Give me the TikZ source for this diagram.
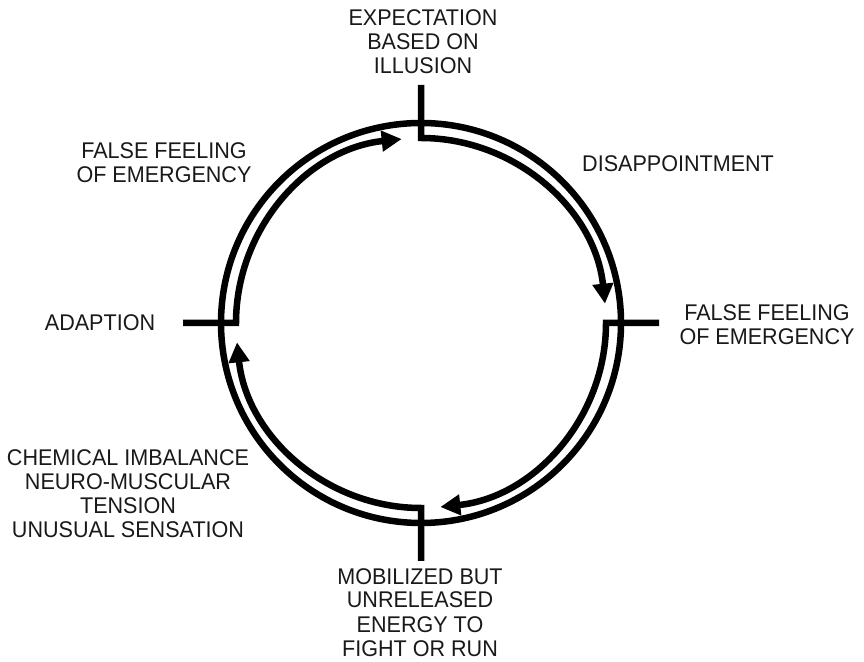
\documentclass[tikz,border=0pt]{standalone}
\usepackage{fontspec}
\setmainfont{Liberation Sans}[FakeStretch=0.95]
\usetikzlibrary{arrows.meta}
\begin{document}
\begin{tikzpicture}[x=1pt,y=1pt,
  lbl/.style={font=\fontsize{22.7}{24}\selectfont, align=center, inner sep=0pt, text=black!90},
  ring/.style={line width=6.5pt},
  flow/.style={line width=6.5pt, line join=miter, -{Triangle[length=20pt,width=20pt]}}]
\useasboundingbox (0,0) rectangle (864,661);
\coordinate (C) at (421,338);
\begin{scope}[shift={(C)}]
  \draw[ring] (0,0) circle[radius=200];
  \coordinate (tT) at (90:238);  \coordinate (iT) at (90:185);
  \coordinate (tR) at (0:238);   \coordinate (iR) at (0:185);
  \coordinate (tB) at (-90:238); \coordinate (iB) at (-90:185);
  \coordinate (tL) at (180:238); \coordinate (iL) at (180:185);
  \draw[flow] (tT) -- (iT) arc[start angle=90, end angle=6, radius=185];
  \draw[flow] (tR) -- (iR) arc[start angle=0, end angle=-84, radius=185];
  \draw[flow] (tB) -- (iB) arc[start angle=-90, end angle=-174, radius=185];
  \draw[flow] (tL) -- (iL) arc[start angle=180, end angle=96, radius=185];
\end{scope}
\node[lbl, anchor=base] (expect) at (423,587) {EXPECTATION\\BASED ON\\ILLUSION};
\node[lbl, anchor=base west] (disap) at (582,489) {DISAPPOINTMENT};
\node[lbl, anchor=base] (ffr) at (767,316) {FALSE FEELING\\OF EMERGENCY};
\node[lbl, anchor=base] (ffl) at (164,478) {FALSE FEELING\\OF EMERGENCY};
\node[lbl, anchor=base] (adapt) at (100,330) {ADAPTION};
\node[lbl, anchor=base] (chem) at (128,123) {CHEMICAL IMBALANCE\\NEURO-MUSCULAR\\TENSION\\UNUSUAL SENSATION};
\node[lbl, anchor=base] (mobil) at (420,5) {MOBILIZED BUT\\UNRELEASED\\ENERGY TO\\FIGHT OR RUN};
\end{tikzpicture}
\end{document}
